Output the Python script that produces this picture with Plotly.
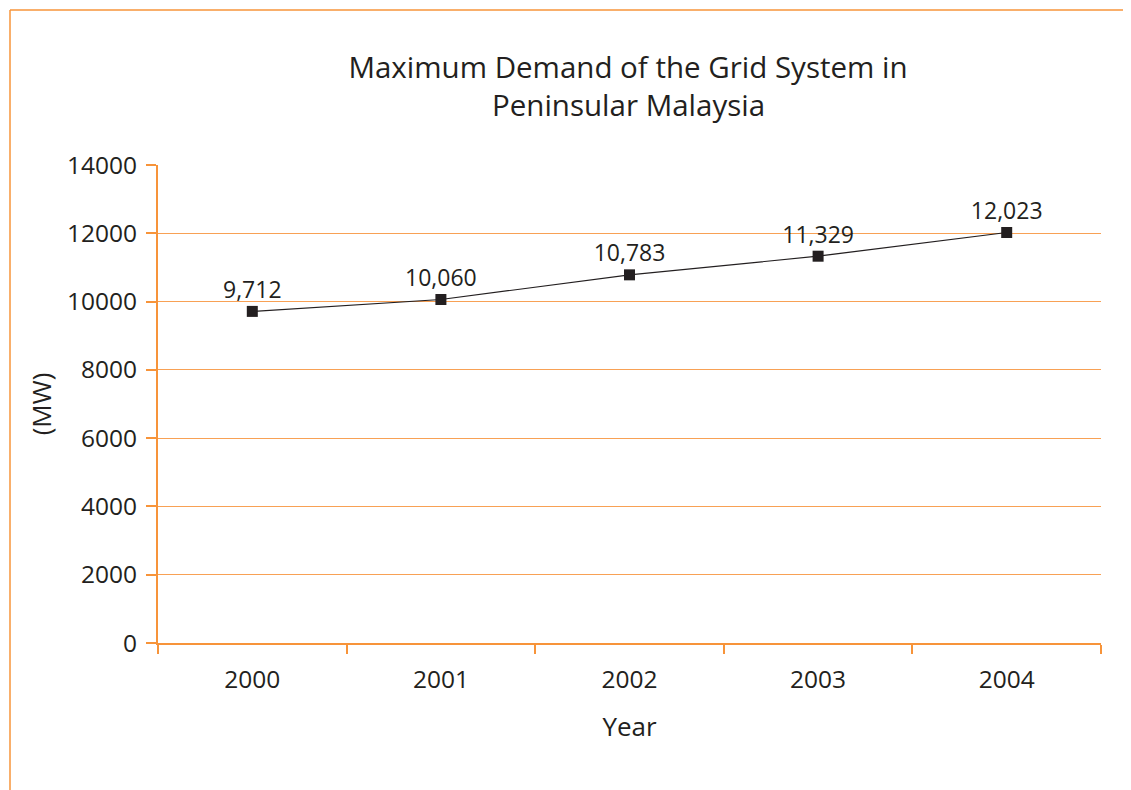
import plotly.graph_objects as go

years = ["2000", "2001", "2002", "2003", "2004"]
demand_mw = [9712, 10060, 10783, 11329, 12023]
labels = ["9,712", "10,060", "10,783", "11,329", "12,023"]
y_ticks = [0, 2000, 4000, 6000, 8000, 10000, 12000, 14000]
title_lines = ["Maximum Demand of the Grid System in", "Peninsular Malaysia"]

ORANGE = "#F7943A"
GRID = "#F8A155"
FONT = "Open Sans"
INK = "#231F20"

# page body has an 8px offset; figure coords = screen coords - 8
OFF = 8
W, H = 1131 - OFF, 790 - OFF
L = 158 - OFF
T = 165 - OFF
R = W - (1101 - OFF)
B = H - (643 - OFF)
pw = W - L - R
ph = H - T - B

fig = go.Figure()
fig.add_trace(go.Scatter(
    x=years, y=demand_mw, mode="lines+markers+text",
    text=labels, textposition="top center",
    textfont=dict(size=23, color=INK, family=FONT),
    line=dict(color=INK, width=1.2),
    marker=dict(symbol="square", size=11, color=INK),
    cliponaxis=False, showlegend=False,
))

fx = lambda px: (px - OFF - L) / pw
fy = lambda py: 1 - (py - OFF - T) / ph

fig.update_layout(
    width=W, height=H,
    margin=dict(l=L, r=R, t=T, b=B),
    paper_bgcolor="white", plot_bgcolor="white",
    font=dict(family=FONT, color=INK, size=24),
    title=dict(text=title_lines[0],
               x=(628 - OFF) / W, xanchor="center", y=1 - (68 - OFF) / H, yanchor="middle",
               font=dict(size=29.5, family=FONT, color=INK)),
    xaxis=dict(
        type="category", tickson="boundaries", ticks="outside", ticklen=9,
        tickcolor=ORANGE, tickwidth=2, showline=True, linecolor=ORANGE, linewidth=2,
        showgrid=False, range=[-0.5, 4.5], ticklabelstandoff=14,
        title=dict(text="Year", font=dict(size=26, color=INK), standoff=23),
        tickfont=dict(size=24.5, color=INK),
    ),
    yaxis=dict(
        range=[0, 14000], tickvals=y_ticks, tickformat="d", ticks="outside", ticklen=10,
        tickcolor=ORANGE, tickwidth=2, showline=True, linecolor=ORANGE, linewidth=2,
        showgrid=True, gridcolor=GRID, gridwidth=1, zeroline=False,
        ticklabelstandoff=4,
        title=dict(text="(MW)", font=dict(size=26, color=INK), standoff=8),
        tickfont=dict(size=24.5, color=INK),
    ),
    annotations=[
        dict(text=title_lines[1], xref="paper", yref="paper",
             x=fx(628), y=fy(104), xanchor="center", yanchor="middle",
             showarrow=False, font=dict(size=29.5, family=FONT, color=INK)),
    ],
    shapes=[
        dict(type="line", xref="paper", yref="paper",
             x0=fx(10), x1=fx(1131), y0=fy(10), y1=fy(10),
             line=dict(color=ORANGE, width=1.5)),
        dict(type="line", xref="paper", yref="paper",
             x0=fx(10), x1=fx(10), y0=fy(10), y1=fy(790),
             line=dict(color=ORANGE, width=1.5)),
    ],
)

fig.write_html("out.html")
